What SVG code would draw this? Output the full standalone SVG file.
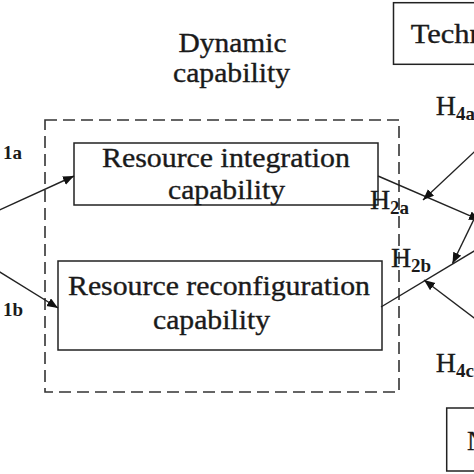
<svg xmlns="http://www.w3.org/2000/svg" width="474" height="474" viewBox="0 0 474 474">
<style>
.box{fill:#fff;stroke:#222;stroke-width:1.5}
.dash{fill:none;stroke:#333;stroke-width:1.6;stroke-dasharray:12 6}
.t{font-family:"Times New Roman","Liberation Serif",serif;font-size:27px;fill:#1a1a1a;stroke:#1a1a1a;stroke-width:0.35}
.h{font-family:"Times New Roman","Liberation Serif",serif;font-size:28px;fill:#1a1a1a;stroke:#1a1a1a;stroke-width:0.3}
.s{font-family:"Times New Roman","Liberation Serif",serif;font-size:19px;font-weight:bold;fill:#1a1a1a}
.c{fill:none;stroke:#222;stroke-width:1.4}
</style>
<defs>
<marker id="arr" markerUnits="userSpaceOnUse" markerWidth="12" markerHeight="10" refX="11" refY="4.5" orient="auto">
<path d="M0,0 L11,4.5 L0,9 Z" fill="#111"/>
</marker>
</defs>
<rect width="474" height="474" fill="#fff"/>
<g id="dynamic-capability">
<rect class="dash" x="45" y="120" width="354" height="272"/>
<text class="t" x="232.5" y="52" text-anchor="middle" textLength="108" lengthAdjust="spacingAndGlyphs">Dynamic</text>
<text class="t" x="231.5" y="82" text-anchor="middle" textLength="117" lengthAdjust="spacingAndGlyphs">capability</text>
</g>
<g id="resource-integration">
<rect class="box" x="74" y="143" width="304" height="62"/>
<text class="t" x="226" y="167" text-anchor="middle" textLength="248" lengthAdjust="spacingAndGlyphs">Resource integration</text>
<text class="t" x="226.5" y="199" text-anchor="middle" textLength="117" lengthAdjust="spacingAndGlyphs">capability</text>
</g>
<g id="resource-reconfiguration">
<rect class="box" x="58" y="261" width="324" height="89"/>
<text class="t" x="219" y="295" text-anchor="middle" textLength="302" lengthAdjust="spacingAndGlyphs">Resource reconfiguration</text>
<text class="t" x="211.5" y="329" text-anchor="middle" textLength="117" lengthAdjust="spacingAndGlyphs">capability</text>
</g>
<g id="technology">
<rect class="box" x="393.5" y="2.7" width="100" height="61.6"/>
<text class="t" x="410.7" y="43" textLength="74" lengthAdjust="spacingAndGlyphs">Techn</text>
</g>
<g id="bottom-node">
<rect class="box" x="446.7" y="408" width="60" height="63"/>
<text class="t" x="467" y="450">N</text>
</g>
<g id="connectors">
<line class="c" x1="-5" y1="212" x2="74" y2="176" marker-end="url(#arr)"/>
<line class="c" x1="-5" y1="269" x2="58" y2="308" marker-end="url(#arr)"/>
<line class="c" x1="378" y1="176" x2="480" y2="220" marker-end="url(#arr)"/>
<line class="c" x1="480" y1="146.5" x2="423" y2="200" marker-end="url(#arr)"/>
<line class="c" x1="476" y1="215" x2="452.5" y2="263.5" marker-end="url(#arr)"/>
<line class="c" x1="381" y1="307" x2="490" y2="241.5"/>
<line class="c" x1="480" y1="322.5" x2="424" y2="280" marker-end="url(#arr)"/>
</g>
<g id="labels">
<text class="s" x="3" y="159">1a</text>
<text class="s" x="3" y="316">1b</text>
<text class="h" x="435.7" y="115">H</text><text class="s" x="456" y="120">4a</text>
<text class="h" x="370" y="209">H</text><text class="s" x="390" y="214">2a</text>
<text class="h" x="391" y="267">H</text><text class="s" x="411" y="272">2b</text>
<text class="h" x="435.7" y="372">H</text><text class="s" x="456" y="377">4c</text>
</g>
</svg>
